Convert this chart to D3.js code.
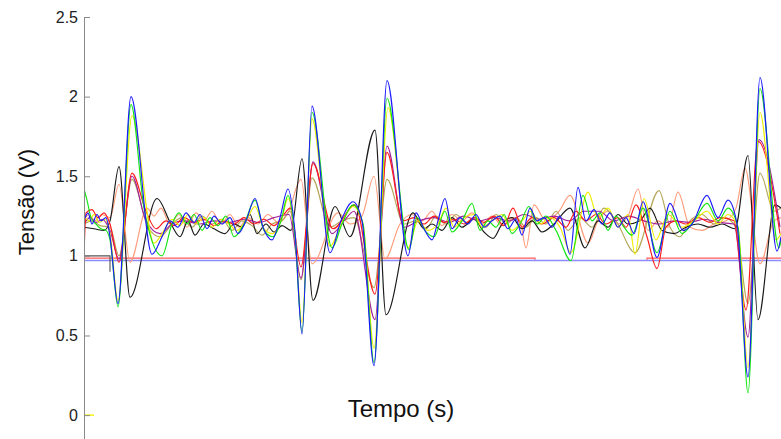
<!DOCTYPE html>
<html lang="pt">
<head>
<meta charset="utf-8">
<script src="https://cdn.jsdelivr.net/npm/d3@7"></script>
<style>
  html, body { margin: 0; padding: 0; background: #fff; }
  svg { display: block; font-family: "Liberation Sans", Arial, Helvetica, sans-serif; }
</style>
</head>
<body>
<svg id="chart" width="781" height="439"></svg>
<script>
// Tensão medida em oito canais ao longo do tempo: pares [tempo (s), tensão (V)]
const sinalAzul = [[0.00,1.22],[0.04,1.27],[0.08,1.20],[0.13,1.26],[0.17,1.22],[0.22,1.24],[0.26,1.12],[0.34,0.70],[0.47,2.00],[0.68,1.01],[0.78,1.12],[0.86,1.22],[0.94,1.18],[1.02,1.27],[1.10,1.21],[1.16,1.26],[1.23,1.17],[1.30,1.25],[1.38,1.20],[1.46,1.24],[1.54,1.14],[1.62,1.22],[1.71,1.36],[1.79,1.18],[1.88,1.10],[1.96,1.24],[2.04,1.42],[2.11,1.15],[2.18,0.51],[2.28,1.94],[2.46,1.02],[2.57,1.22],[2.69,1.34],[2.78,1.22],[2.90,0.31],[3.03,2.10],[3.24,1.00],[3.32,1.27],[3.40,1.17],[3.48,1.10],[3.54,1.22],[3.61,1.36],[3.68,1.17],[3.76,1.24],[3.84,1.20],[3.92,1.26],[4.00,1.18],[4.08,1.22],[4.16,1.25],[4.24,1.17],[4.32,1.23],[4.38,1.13],[4.46,1.30],[4.53,1.22],[4.60,1.24],[4.68,1.18],[4.76,1.25],[4.86,1.01],[4.94,1.43],[5.02,1.22],[5.10,1.29],[5.18,1.20],[5.26,1.27],[5.34,1.18],[5.42,1.24],[5.50,1.14],[5.59,1.34],[5.73,0.99],[5.86,1.33],[5.99,1.16],[6.08,1.20],[6.23,1.38],[6.34,1.24],[6.44,1.35],[6.53,1.20],[6.64,0.24],[6.76,2.12],[6.93,1.03],[6.97,1.12]];
const sinalVerde = [[0.00,1.42],[0.03,1.35],[0.07,1.24],[0.12,1.20],[0.17,1.17],[0.22,1.16],[0.26,1.10],[0.34,0.68],[0.47,1.95],[0.60,1.30],[0.78,1.00],[0.88,1.20],[0.95,1.27],[1.03,1.20],[1.10,1.26],[1.18,1.16],[1.26,1.24],[1.34,1.19],[1.42,1.25],[1.50,1.12],[1.60,1.20],[1.71,1.35],[1.80,1.16],[1.89,1.12],[1.97,1.22],[2.04,1.38],[2.11,1.12],[2.18,0.52],[2.28,1.90],[2.48,1.05],[2.58,1.20],[2.69,1.32],[2.79,1.20],[2.90,0.33],[3.03,1.99],[3.25,1.04],[3.33,1.24],[3.42,1.15],[3.50,1.12],[3.61,1.28],[3.68,1.15],[3.78,1.22],[3.88,1.33],[3.96,1.16],[4.04,1.22],[4.12,1.18],[4.20,1.26],[4.28,1.14],[4.36,1.20],[4.45,1.31],[4.53,1.20],[4.62,1.25],[4.72,1.16],[4.87,0.97],[4.99,1.38],[5.08,1.22],[5.16,1.27],[5.24,1.16],[5.32,1.25],[5.40,1.18],[5.48,1.13],[5.59,1.30],[5.73,1.02],[5.86,1.28],[5.98,1.14],[6.10,1.22],[6.23,1.33],[6.34,1.22],[6.44,1.30],[6.54,1.18],[6.64,0.14],[6.76,2.05],[6.95,1.05],[6.97,1.10]];
const sinalAmarelo = [[0.00,1.25],[0.05,1.22],[0.10,1.26],[0.15,1.21],[0.21,1.23],[0.26,1.14],[0.34,0.72],[0.48,1.88],[0.70,1.08],[0.80,1.16],[0.88,1.23],[0.96,1.19],[1.04,1.26],[1.12,1.20],[1.20,1.24],[1.28,1.18],[1.36,1.23],[1.45,1.20],[1.53,1.16],[1.62,1.22],[1.71,1.31],[1.80,1.17],[1.89,1.14],[1.98,1.24],[2.04,1.36],[2.11,1.14],[2.18,0.58],[2.28,1.86],[2.46,1.06],[2.58,1.21],[2.69,1.31],[2.79,1.20],[2.90,0.42],[3.04,1.93],[3.24,1.05],[3.34,1.22],[3.44,1.16],[3.54,1.20],[3.62,1.30],[3.70,1.18],[3.80,1.24],[3.90,1.26],[3.98,1.18],[4.08,1.22],[4.18,1.26],[4.28,1.16],[4.38,1.22],[4.47,1.28],[4.56,1.20],[4.66,1.24],[4.76,1.18],[4.87,1.02],[5.04,1.40],[5.14,1.24],[5.24,1.30],[5.34,1.18],[5.44,1.26],[5.51,1.01],[5.60,1.36],[5.72,1.10],[5.84,1.26],[5.98,1.18],[6.10,1.22],[6.23,1.28],[6.34,1.20],[6.44,1.26],[6.54,1.18],[6.64,0.30],[6.76,1.90],[6.92,1.10],[6.97,1.14]];
const sinalVermelho = [[0.00,1.00],[0.02,1.27],[0.08,1.29],[0.14,1.24],[0.20,1.27],[0.26,1.20],[0.35,0.96],[0.48,1.52],[0.62,1.28],[0.72,1.17],[0.82,1.22],[0.90,1.19],[1.00,1.24],[1.10,1.21],[1.20,1.23],[1.30,1.19],[1.40,1.22],[1.50,1.20],[1.60,1.24],[1.70,1.20],[1.80,1.23],[1.90,1.19],[2.00,1.26],[2.06,1.30],[2.17,0.93],[2.29,1.58],[2.49,1.17],[2.71,1.32],[2.91,0.76],[3.03,1.65],[3.19,1.22],[3.30,1.24],[3.40,1.20],[3.50,1.25],[3.60,1.21],[3.70,1.23],[3.80,1.20],[3.90,1.24],[4.00,1.21],[4.10,1.25],[4.20,1.19],[4.29,1.30],[4.38,1.18],[4.48,1.24],[4.58,1.20],[4.70,1.24],[4.82,1.18],[4.92,1.28],[5.02,1.22],[5.12,1.26],[5.22,1.20],[5.34,1.24],[5.42,1.18],[5.52,1.32],[5.63,1.12],[5.73,0.92],[5.82,1.18],[5.92,1.22],[6.02,1.20],[6.14,1.24],[6.26,1.21],[6.36,1.24],[6.50,1.22],[6.62,0.66],[6.74,1.72],[6.96,1.14]];
const sinalRoxo = [[0.00,1.20],[0.06,1.24],[0.12,1.21],[0.18,1.23],[0.26,1.16],[0.35,0.98],[0.48,1.50],[0.62,1.22],[0.76,1.14],[0.88,1.20],[1.00,1.22],[1.15,1.20],[1.30,1.22],[1.45,1.21],[1.60,1.23],[1.75,1.21],[1.90,1.24],[2.05,1.26],[2.17,0.86],[2.29,1.59],[2.48,1.14],[2.60,1.22],[2.70,1.28],[2.91,0.60],[3.03,1.69],[3.20,1.18],[3.35,1.22],[3.50,1.24],[3.65,1.21],[3.80,1.25],[3.95,1.22],[4.10,1.24],[4.25,1.22],[4.40,1.26],[4.55,1.23],[4.70,1.25],[4.85,1.22],[5.00,1.28],[5.15,1.28],[5.30,1.22],[5.45,1.25],[5.60,1.22],[5.75,1.20],[5.90,1.22],[6.05,1.21],[6.20,1.23],[6.35,1.21],[6.50,1.20],[6.64,0.49],[6.75,1.73],[6.96,1.18]];
const sinalPreto = [[0.00,1.18],[0.10,1.17],[0.20,1.16],[0.26,1.22],[0.35,1.56],[0.46,0.74],[0.73,1.36],[0.87,1.20],[0.96,1.12],[1.04,1.22],[1.11,1.13],[1.20,1.20],[1.30,1.17],[1.41,1.14],[1.50,1.20],[1.58,1.18],[1.66,1.26],[1.73,1.14],[1.82,1.20],[1.90,1.15],[1.98,1.19],[2.07,1.16],[2.18,1.61],[2.29,0.72],[2.51,1.31],[2.66,1.12],[2.91,1.79],[3.02,0.63],[3.29,1.27],[3.40,1.17],[3.48,1.20],[3.58,1.16],[3.68,1.24],[3.78,1.18],[3.90,1.23],[4.00,1.15],[4.09,1.11],[4.18,1.20],[4.28,1.24],[4.38,1.17],[4.48,1.22],[4.58,1.15],[4.70,1.20],[4.86,1.30],[5.01,1.05],[5.14,1.22],[5.24,1.18],[5.34,1.26],[5.44,1.20],[5.56,1.22],[5.66,1.30],[5.78,1.16],[5.90,1.14],[6.02,1.18],[6.14,1.20],[6.26,1.18],[6.38,1.20],[6.51,1.17],[6.64,1.63],[6.74,0.60],[6.91,1.32],[6.97,1.30]];
const sinalLaranja = [[0.00,1.22],[0.05,1.26],[0.11,1.22],[0.18,1.26],[0.26,1.24],[0.35,1.45],[0.46,0.96],[0.63,1.30],[0.70,1.25],[0.77,1.30],[0.86,1.20],[0.95,1.26],[1.03,1.18],[1.12,1.27],[1.20,1.22],[1.28,1.28],[1.37,1.20],[1.46,1.26],[1.55,1.18],[1.64,1.24],[1.74,1.20],[1.84,1.26],[1.94,1.21],[2.04,1.27],[2.17,1.48],[2.28,0.95],[2.54,1.27],[2.66,1.20],[2.78,1.25],[2.90,1.50],[3.01,0.98],[3.16,1.20],[3.28,1.26],[3.38,1.22],[3.48,1.28],[3.58,1.19],[3.68,1.26],[3.78,1.22],[3.88,1.27],[3.98,1.20],[4.08,1.25],[4.18,1.19],[4.30,1.24],[4.36,1.22],[4.42,1.05],[4.50,1.32],[4.62,1.22],[4.75,1.28],[4.86,1.38],[5.04,1.08],[5.14,1.22],[5.24,1.28],[5.34,1.20],[5.44,1.25],[5.54,1.42],[5.64,1.16],[5.74,1.22],[5.84,1.18],[5.94,1.40],[6.06,1.18],[6.18,1.16],[6.30,1.20],[6.42,1.22],[6.52,1.30],[6.61,1.55],[6.76,0.95],[6.90,1.22],[6.97,1.24]];
const sinalOliva = [[0.00,1.20],[0.08,1.22],[0.16,1.19],[0.26,1.18],[0.35,1.00],[0.48,1.48],[0.64,1.18],[0.76,1.12],[0.88,1.20],[0.98,1.24],[1.08,1.18],[1.18,1.25],[1.28,1.20],[1.38,1.23],[1.48,1.16],[1.58,1.22],[1.68,1.19],[1.78,1.13],[1.88,1.20],[1.98,1.22],[2.06,1.28],[2.17,0.85],[2.28,1.49],[2.46,1.18],[2.58,1.22],[2.70,1.24],[2.90,0.80],[3.03,1.48],[3.20,1.20],[3.32,1.22],[3.42,1.17],[3.52,1.25],[3.62,1.20],[3.72,1.26],[3.82,1.21],[3.92,1.24],[4.02,1.18],[4.12,1.26],[4.22,1.20],[4.32,1.24],[4.42,1.18],[4.52,1.24],[4.62,1.20],[4.72,1.28],[4.84,1.16],[4.96,1.24],[5.08,1.18],[5.20,1.30],[5.32,1.22],[5.51,1.02],[5.75,1.41],[5.86,1.18],[5.96,1.12],[6.06,1.22],[6.18,1.26],[6.30,1.20],[6.40,1.24],[6.52,1.18],[6.64,0.70],[6.76,1.52],[6.90,1.28],[6.97,1.30]];

// Níveis de referência (degraus)
const nivelAzul = [[0.00,0.971],[6.97,0.971]];
const nivelVermelho = [[0.00,0.986],[4.51,0.986],[4.51,0.971],[5.63,0.971],[5.63,0.986],[6.97,0.986]];
const nivelCinza = [[0.00,1.00],[0.26,1.00],[0.26,0.90]];
const nivelAmarelo = [[0.00,0.00],[0.10,0.00]];

const ticksY = [0, 0.5, 1, 1.5, 2, 2.5];
const rotuloY = "Tensão (V)";
const rotuloX = "Tempo (s)";

const svg = d3.select("#chart");
const W = 781, H = 439;
const x = d3.scaleLinear().domain([0, 6.97]).range([84, 781]);
const y = d3.scaleLinear().domain([-0.15, 2.5]).range([439, 17]);

const suave = d3.line().x(d => x(d[0])).y(d => y(d[1])).curve(d3.curveMonotoneX);
const reta = d3.line().x(d => x(d[0])).y(d => y(d[1]));

svg.append("defs").append("clipPath").attr("id", "area")
  .append("rect").attr("x", 84).attr("y", 0).attr("width", W - 84).attr("height", H);

const plot = svg.append("g").attr("clip-path", "url(#area)");

// degraus de referência (o azul por cima do vermelho no trecho comum)
[
  { d: nivelVermelho, c: "#ff5a5a", w: 1.1 },
  { d: nivelAzul, c: "#8c8cff", w: 1.6 },
  { d: nivelCinza, c: "#555", w: 1.1 },
  { d: nivelAmarelo, c: "#f2f200", w: 1.4 }
].forEach(s => {
  plot.append("path").attr("d", reta(s.d)).attr("fill", "none")
    .attr("stroke", s.c).attr("stroke-width", s.w);
});

// sinais
[
  { d: sinalLaranja, c: "#ff9c7a" },
  { d: sinalOliva, c: "#b3a75a" },
  { d: sinalPreto, c: "#1a1a1a" },
  { d: sinalRoxo, c: "#a0209a" },
  { d: sinalVermelho, c: "#ff1a1a" },
  { d: sinalAmarelo, c: "#eeee00" },
  { d: sinalVerde, c: "#14e614" },
  { d: sinalAzul, c: "#1a1aff" }
].forEach(s => {
  plot.append("path").attr("d", suave(s.d)).attr("fill", "none")
    .attr("stroke", s.c).attr("stroke-width", 1.15).attr("stroke-linejoin", "round");
});

// eixo vertical
const eixo = svg.append("g").attr("transform", "translate(84,0)")
  .call(d3.axisLeft(y).tickValues(ticksY).tickFormat(d3.format("")).tickSize(-6).tickSizeOuter(0).tickPadding(6));
eixo.select(".domain").attr("stroke", "#8a8a8a");
eixo.selectAll(".tick line").attr("stroke", "#8a8a8a");
eixo.selectAll(".tick text").attr("fill", "#222").style("font-size", "16px")
  .style("font-family", "'Liberation Sans', Arial, sans-serif");

svg.append("text").attr("transform", "translate(34,202) rotate(-90)")
  .attr("text-anchor", "middle").attr("fill", "#111").style("font-size", "22px")
  .text(rotuloY);

svg.append("text").attr("x", 401).attr("y", 417)
  .attr("text-anchor", "middle").attr("fill", "#111").style("font-size", "24px")
  .text(rotuloX);
</script>
</body>
</html>
